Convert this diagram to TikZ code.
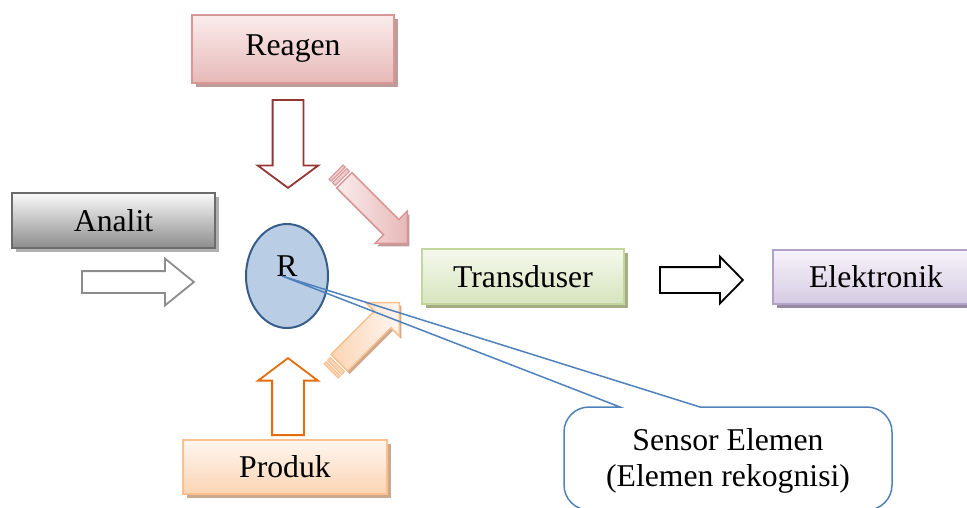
\documentclass[tikz,border=0pt]{standalone}
\usepackage{fontspec}
\setmainfont{Liberation Serif}
\usepackage{tikz}
\usetikzlibrary{shapes.arrows,shapes.geometric,shadows}
\usepackage{xcolor}
\definecolor{reagenline}{HTML}{D99694}
\definecolor{reagentop}{HTML}{FBECEC}
\definecolor{reagenbot}{HTML}{E6B9B8}
\definecolor{reagenshadow}{HTML}{BE9C9B}
\definecolor{analitline}{HTML}{6B6B6B}
\definecolor{analittop}{HTML}{FAFAFA}
\definecolor{analitbot}{HTML}{8C8C8C}
\definecolor{analitshadow}{HTML}{B0B0B0}
\definecolor{transline}{HTML}{C3D69B}
\definecolor{transtop}{HTML}{F5F9EE}
\definecolor{transbot}{HTML}{D7E4BD}
\definecolor{transshadow}{HTML}{A3AC86}
\definecolor{elekline}{HTML}{B2A2C7}
\definecolor{elektop}{HTML}{F7F3FA}
\definecolor{elekbot}{HTML}{D5CBE3}
\definecolor{elekshadow}{HTML}{958BA3}
\definecolor{produkline}{HTML}{FAC090}
\definecolor{produktop}{HTML}{FFF6EF}
\definecolor{produkbot}{HTML}{FBD4B4}
\definecolor{produkshadow}{HTML}{CCA98C}
\definecolor{rfill}{HTML}{B9CDE5}
\definecolor{rline}{HTML}{385D8A}
\definecolor{callout}{HTML}{4F81BD}
\definecolor{darkred}{HTML}{943634}
\definecolor{darkorange}{HTML}{E46C0A}
\newcommand{\boxfont}{\fontsize{31.7}{36}\selectfont}

\begin{document}
\begin{tikzpicture}[x=1pt,y=-1pt,
  box/.style={rectangle,line width=1.8pt,inner sep=0pt,font=\boxfont},
  boxshadow/.style={general shadow={fill=#1,shadow xshift=4pt,shadow yshift=-4pt}},
  hollow/.style={single arrow,line width=1.8pt,fill=white,inner xsep=0pt,anchor=tail},
  stripe/.style={rectangle,inner sep=0pt,line width=1pt,minimum height=20pt}]
  \useasboundingbox (0,0) rectangle (967,507);

  % the five boxes
  \node[box,draw=reagenline,top color=reagentop,bottom color=reagenbot,boxshadow=reagenshadow,
    minimum width=202pt,minimum height=68pt] (reagen) at (293,49) {Reagen};
  \node[box,draw=analitline,top color=analittop,bottom color=analitbot,boxshadow=analitshadow,
    minimum width=203pt,minimum height=55pt] (analit) at (113.5,220.5) {Analit};
  \node[box,draw=transline,top color=transtop,bottom color=transbot,boxshadow=transshadow,
    minimum width=202pt,minimum height=55pt] (trans) at (523,276.5) {Transduser};
  \node[box,draw=elekline,top color=elektop,bottom color=elekbot,boxshadow=elekshadow,
    minimum width=206pt,minimum height=54pt] (elek) at (876,277) {Elektronik};
  \node[box,draw=produkline,top color=produktop,bottom color=produkbot,boxshadow=produkshadow,
    minimum width=204pt,minimum height=54pt] (produk) at (285,467) {Produk};

  % recognition element
  \node[ellipse,draw=rline,fill=rfill,line width=2pt,inner sep=0pt,
    minimum width=82pt,minimum height=104pt] (r) at (287,276) {};
  \node[font=\boxfont,inner sep=0pt] (rlabel) at (287,266) {R};
  \coordinate (rtip) at (282,276);

  % hollow block arrows
  \node[hollow,draw=darkred,rotate=-90,minimum height=88pt,inner ysep=14.5pt,
    single arrow head extend=15pt,single arrow tip angle=107] (reagenarr) at (288,99) {};
  \node[hollow,draw=darkorange,rotate=90,minimum height=77pt,inner ysep=15pt,
    single arrow head extend=14pt,single arrow tip angle=106] (produkarr) at (288,436) {};
  \node[hollow,draw=analitbot,minimum height=112pt,inner ysep=10pt,
    single arrow head extend=12.5pt,single arrow tip angle=78] (analitarr) at (81,282) {};
  \node[hollow,draw=black,minimum height=83pt,inner ysep=12pt,
    single arrow head extend=10.5pt,single arrow tip angle=91] (transarr) at (659,280) {};

  % striped arrows into the transducer
  \node[stripe,draw=reagenline,fill=reagenbot!70,rotate=-45,minimum width=3pt] (rs1) at (337.1,173.1) {};
  \node[stripe,draw=reagenline,fill=reagenbot!70,rotate=-45,minimum width=4pt] (rs2) at (341,177) {};
  \node[single arrow,draw=reagenline,line width=1.5pt,left color=reagentop,right color=reagenbot,
    general shadow={fill=reagenshadow,shadow xshift=2pt,shadow yshift=-3pt},
    rotate=-45,anchor=tail,minimum height=89pt,inner xsep=0pt,inner ysep=10pt,
    single arrow head extend=12pt,single arrow tip angle=90] (reagendiag) at (343.8,179.8) {};

  \node[stripe,draw=produkline,fill=produkbot,rotate=45,minimum width=3pt] (ps1) at (332.1,369.9) {};
  \node[stripe,draw=produkline,fill=produkbot,rotate=45,minimum width=4pt] (ps2) at (336,366) {};
  \node[single arrow,draw=produkline,line width=1.5pt,left color=produkbot,right color=produktop,
    general shadow={fill=produkshadow,shadow xshift=2pt,shadow yshift=-3pt},
    rotate=45,anchor=tail,minimum height=85pt,inner xsep=0pt,inner ysep=11pt,
    single arrow head extend=12pt,single arrow tip angle=90] (produkdiag) at (338.8,363.2) {};

  % callout for the sensor element
  \draw[callout,line width=1.5pt] (rtip) -- (700,407) [rounded corners=25pt] -- (892,407)
    -- (892,510) -- (564,510) -- (564,407) [sharp corners] -- (620,407) -- cycle;
  \node[font=\boxfont,align=center,inner sep=0pt] (sensor) at (728,461)
    {Sensor Elemen\\(Elemen rekognisi)};
\end{tikzpicture}
\end{document}
